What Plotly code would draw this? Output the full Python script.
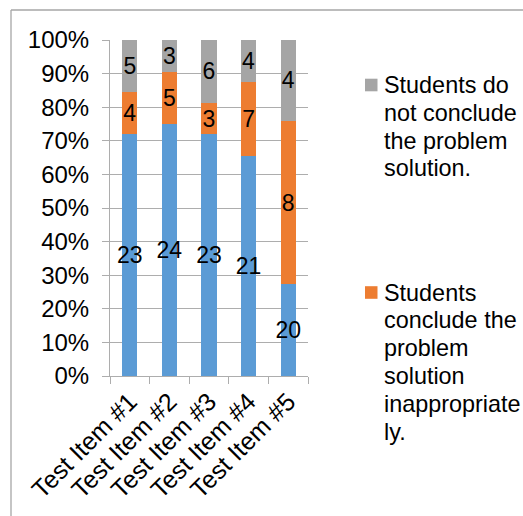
import plotly.graph_objects as go

categories = ["Test Item #1", "Test Item #2", "Test Item #3", "Test Item #4", "Test Item #5"]

# Segment shares (percent of each bar)
blue_share = [71.9, 75.0, 71.9, 65.6, 27.3]
orange_share = [12.5, 15.6, 9.4, 21.9, 48.6]
gray_share = [15.6, 9.4, 18.7, 12.5, 24.1]

# Data labels shown on the segments (counts)
blue_labels = [23, 24, 23, 21, 20]
orange_labels = [4, 5, 3, 7, 8]
gray_labels = [5, 3, 6, 4, 4]

# Legend texts (as wrapped in the picture)
gray_legend_lines = ["Students do", "not conclude", "the problem", "solution."]
orange_legend_lines = ["Students", "conclude the", "problem", "solution", "inappropriate", "ly."]

FONT = "Liberation Sans, Arial, sans-serif"
BLUE = "#5B9BD5"
ORANGE = "#ED7D31"
GRAY = "#A5A5A5"
GRID = "#ADADAD"

W, H = 523, 516
ML, MR, MT, MB = 110, 215, 40, 140
PW, PH = W - ML - MR, H - MT - MB


def px_x(px):
    return (px - ML) / PW


def px_y(py):
    return (H - MB - py) / PH


def bar(y, labels, color, name):
    return go.Bar(
        x=categories, y=y, name=name, marker=dict(color=color, line=dict(width=0)),
        text=[str(v) for v in labels], textposition="inside", insidetextanchor="middle",
        textangle=0, constraintext="none",
        textfont=dict(family=FONT, size=23, color="black"),
        showlegend=False, hoverinfo="skip",
    )


fig = go.Figure()
fig.add_trace(bar(blue_share, blue_labels, BLUE, "appropriately"))
fig.add_trace(bar(orange_share, orange_labels, ORANGE, " ".join(orange_legend_lines)))
fig.add_trace(bar(gray_share, gray_labels, GRAY, " ".join(gray_legend_lines)))

shapes = [
    dict(type="line", xref="paper", yref="paper", x0=px_x(11), x1=px_x(11), y0=px_y(600), y1=px_y(10),
         line=dict(color="#A6A6A6", width=1.3)),
    dict(type="line", xref="paper", yref="paper", x0=px_x(11), x1=px_x(600), y0=px_y(10), y1=px_y(10),
         line=dict(color="#A6A6A6", width=1.3)),
]
annotations = []

LINE_STEP = 27.8
for lines, color, top_center in [(gray_legend_lines, GRAY, 85), (orange_legend_lines, ORANGE, 292.5)]:
    shapes.append(dict(type="rect", xref="paper", yref="paper",
                       x0=px_x(365), x1=px_x(377.5), y0=px_y(top_center + 6.3), y1=px_y(top_center - 6.3),
                       fillcolor=color, line=dict(width=0)))
    for i, line in enumerate(lines):
        annotations.append(dict(
            xref="paper", yref="paper", x=px_x(383), y=px_y(top_center + i * LINE_STEP),
            xanchor="left", yanchor="middle", text=line, showarrow=False,
            font=dict(family=FONT, size=23.4, color="black"), borderpad=0,
        ))

fig.update_layout(
    width=W, height=H,
    margin=dict(l=ML, r=MR, t=MT, b=MB),
    paper_bgcolor="white", plot_bgcolor="white",
    barmode="stack", barnorm="percent", bargap=0.62,
    uniformtext=dict(mode="show", minsize=23),
    font=dict(family=FONT, size=23, color="black"),
    showlegend=False,
    xaxis=dict(
        type="category", tickangle=-45, tickson="boundaries",
        ticks="outside", ticklen=7, tickcolor=GRID, tickwidth=1,
        showline=True, linecolor=GRID, linewidth=1, showgrid=False,
        tickfont=dict(family=FONT, size=25, color="black"),
    ),
    yaxis=dict(
        range=[0, 100], dtick=10, ticksuffix="%",
        ticks="outside", ticklen=7, tickcolor=GRID, tickwidth=1,
        showline=True, linecolor=GRID, linewidth=1,
        showgrid=True, gridcolor=GRID, gridwidth=1, zeroline=False,
        ticklabelstandoff=8,
        tickfont=dict(family=FONT, size=24, color="black"),
    ),
    shapes=shapes,
    annotations=annotations,
)

fig.write_html("out.html")
